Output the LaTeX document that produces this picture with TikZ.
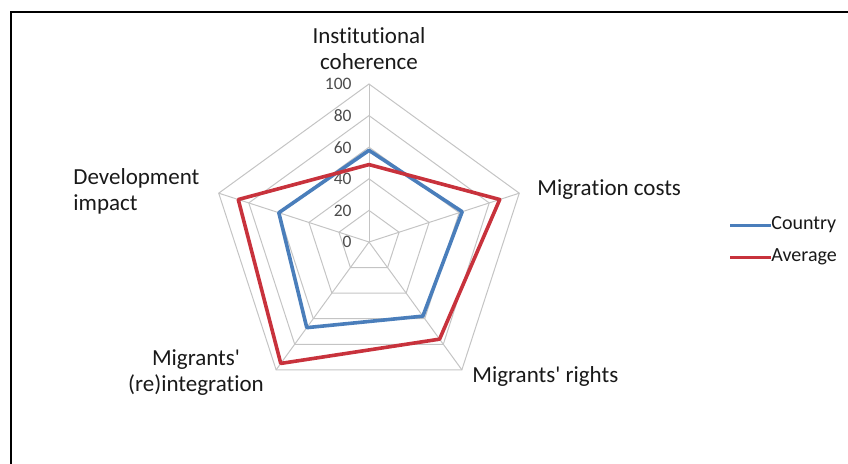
\documentclass[tikz,border=0pt]{standalone}
\usepackage{fontspec}
\setmainfont[Ligatures=NoCommon]{Carlito}
\usetikzlibrary{positioning}

\definecolor{countryblue}{HTML}{4A7EBB}
\definecolor{averagered}{HTML}{C8323C}
\definecolor{gridgray}{HTML}{C4C4C4}

\tikzset{
	grid/.style={draw=gridgray,line width=1pt},
	series/.style={line width=3.6pt,line join=round},
	axislbl/.style={inner sep=0pt,font=\fontsize{23}{26}\selectfont,text=black!90},
	ticklbl/.style={inner sep=0pt,anchor=east,font=\fontsize{17.5}{20}\selectfont,text=black!70},
	legendlbl/.style={inner sep=0pt,anchor=west,font=\fontsize{20}{22}\selectfont,text=black!90}
}

\begin{document}
\begin{tikzpicture}[thick,x=1pt,y=1pt]
\coordinate (O) at (0,0);

\def\r{158}

\useasboundingbox (-369,-221) rectangle (479,242);

% frame
\draw[line width=2pt] (-358,-260) |- (500,230);

% grid
\foreach \v in {20,40,...,100} {
	\draw[grid] (90:{\v*\r/100})
		\foreach \k in {1,...,4} { -- ({90-72*\k}:{\v*\r/100}) } -- cycle;
}
\foreach \k in {0,...,4} {
	\draw[grid] (O) -- ({90-72*\k}:\r);
}

\foreach \v in {0,20,...,100} {
	\node[ticklbl] at (-17,{\v*\r/100}) {\v};
}

% data
\foreach \val [count=\k from 0] in {58,62,58,67,60} {
	\coordinate (c\k) at ({90-72*\k}:{\val*\r/100});
}
\foreach \val [count=\k from 0] in {49,87,76,95,87} {
	\coordinate (a\k) at ({90-72*\k}:{\val*\r/100});
}

\draw[series,countryblue] (c0)--(c1)--(c2)--(c3)--(c4)--cycle;
\draw[series,averagered] (a0)--(a1)--(a2)--(a3)--(a4)--cycle;

% axis labels
\node[axislbl,align=center] (inst) at (0,193) {Institutional\\coherence};
\node[axislbl,anchor=west] (cost) at (168,52) {Migration costs};
\node[axislbl,anchor=west] (rights) at (103,-134) {Migrants\textquotesingle{} rights};
\node[axislbl,align=center] (reint) at (-173,-131) {Migrants\textquotesingle\\(re)integration};
\node[axislbl,align=left,anchor=west] (dev) at (-296,51) {Development\\impact};

% legend
\coordinate (lb) at (361,17);
\coordinate (lr) at (361,-15);
\node[legendlbl] (country) at (402,17) {Country};
\node[legendlbl] (average) at (402,-15) {Average};
\draw[countryblue,line width=3pt] (lb) -- (country.west);
\draw[averagered,line width=3pt] (lr) -- (average.west);

\end{tikzpicture}
\end{document}
